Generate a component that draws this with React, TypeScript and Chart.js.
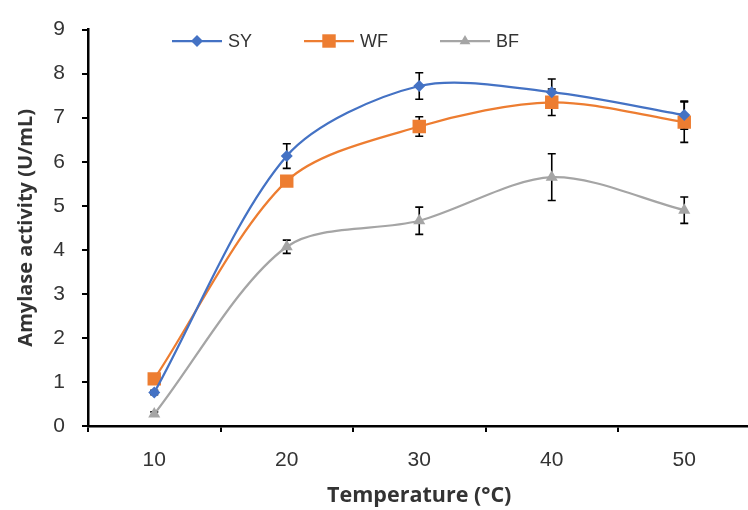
import React, { useEffect, useRef } from "react";
import { Chart, registerables } from "chart.js";

Chart.register(...registerables);

const categories = ["10", "20", "30", "40", "50"];
const seriesNames = ["SY", "WF", "BF"];
const syValues = [0.76, 6.13, 7.72, 7.58, 7.06];
const wfValues = [1.07, 5.56, 6.8, 7.35, 6.9];
const bfValues = [0.27, 4.07, 4.66, 5.65, 4.9];
const syErrors = [0.05, 0.28, 0.3, 0.3, 0.32];
const wfErrors = [0.05, 0.1, 0.22, 0.3, 0.46];
const bfErrors = [0.05, 0.15, 0.31, 0.53, 0.3];
const yTicks = [0, 1, 2, 3, 4, 5, 6, 7, 8, 9];
const yTitle = "Amylase activity (U/mL)";
const xTitle = "Temperature (\u00B0C)";

const colors = ["#4472C4", "#ED7D31", "#A5A5A5"];
const pointStyles = ["rectRot", "rect", "triangle"];
const pointRadii = [6, 9.5, 7];
const textColor = "#333333";

function drawMarker(ctx: CanvasRenderingContext2D, style: string, x: number, y: number, r: number, color: string) {
  ctx.save();
  ctx.fillStyle = color;
  ctx.beginPath();
  if (style === "rectRot") {
    ctx.moveTo(x, y - r);
    ctx.lineTo(x + r, y);
    ctx.lineTo(x, y + r);
    ctx.lineTo(x - r, y);
  } else if (style === "rect") {
    const s = r * Math.SQRT1_2;
    ctx.rect(x - s, y - s, 2 * s, 2 * s);
  } else {
    ctx.moveTo(x, y - r);
    ctx.lineTo(x + r * 0.9, y + r * 0.55);
    ctx.lineTo(x - r * 0.9, y + r * 0.55);
  }
  ctx.closePath();
  ctx.fill();
  ctx.restore();
}

const errorBarPlugin = {
  id: "errorBars",
  beforeDatasetsDraw(chart: any) {
    const ctx = chart.ctx;
    const yScale = chart.scales.y;
    ctx.save();
    ctx.strokeStyle = "#000000";
    ctx.lineWidth = 1.6;
    chart.data.datasets.forEach((ds: any, di: number) => {
      const meta = chart.getDatasetMeta(di);
      meta.data.forEach((pt: any, i: number) => {
        const v = ds.data[i];
        const e = ds.errors[i];
        const x = pt.x;
        const yTop = yScale.getPixelForValue(v + e);
        const yBot = yScale.getPixelForValue(v - e);
        ctx.beginPath();
        ctx.moveTo(x, yTop);
        ctx.lineTo(x, yBot);
        ctx.moveTo(x - 4, yTop);
        ctx.lineTo(x + 4, yTop);
        ctx.moveTo(x - 4, yBot);
        ctx.lineTo(x + 4, yBot);
        ctx.stroke();
      });
    });
    ctx.restore();
  },
};

const legendPlugin = {
  id: "customLegend",
  afterDraw(chart: any) {
    const ctx = chart.ctx;
    ctx.save();
    ctx.font = "18px 'Liberation Sans', Arial, sans-serif";
    ctx.textBaseline = "middle";
    ctx.fillStyle = textColor;
    let x = 172;
    const y = 41;
    chart.data.datasets.forEach((ds: any, i: number) => {
      ctx.strokeStyle = colors[i];
      ctx.lineWidth = 2.25;
      ctx.beginPath();
      ctx.moveTo(x, y);
      ctx.lineTo(x + 50, y);
      ctx.stroke();
      drawMarker(ctx, pointStyles[i], x + 25, y, i === 1 ? 9.5 : 6, colors[i]);
      ctx.fillStyle = textColor;
      ctx.fillText(ds.label, x + 56, y + 1);
      const w = ctx.measureText(ds.label).width;
      x = x + 56 + w + 52;
    });
    ctx.restore();
  },
};

export default function App() {
  const canvasRef = useRef<HTMLCanvasElement | null>(null);

  useEffect(() => {
    document.body.style.margin = "0";
    const canvas = canvasRef.current;
    if (!canvas) return;
    const values = [syValues, wfValues, bfValues];
    const errors = [syErrors, wfErrors, bfErrors];
    const chart = new Chart(canvas, {
      type: "line",
      data: {
        labels: categories,
        datasets: seriesNames.map((name, i) => ({
          label: name,
          data: values[i],
          errors: errors[i],
          borderColor: colors[i],
          backgroundColor: colors[i],
          borderWidth: 2.25,
          pointStyle: pointStyles[i] as any,
          pointRadius: pointRadii[i],
          pointBorderWidth: 0,
          pointBackgroundColor: colors[i],
          tension: 0.3,
          fill: false,
        })) as any,
      },
      options: {
        animation: false,
        responsive: false,
        devicePixelRatio: 1,
        layout: { padding: { top: 24, right: 5, left: 0, bottom: 0 } },
        plugins: {
          legend: { display: false },
          tooltip: { enabled: false },
        },
        scales: {
          x: {
            type: "category",
            offset: true,
            afterFit: (s: any) => {
              s.height = 84;
            },
            grid: {
              offset: true,
              drawOnChartArea: false,
              drawTicks: true,
              tickLength: 6,
              color: "#000000",
              lineWidth: 2,
            },
            border: { color: "#000000", width: 2.5 },
            ticks: {
              color: textColor,
              font: { family: "'Liberation Sans', Arial, sans-serif", size: 21 },
              padding: 16,
              maxRotation: 0,
            },
            title: {
              display: true,
              text: xTitle,
              color: textColor,
              font: { family: "'Open Sans', sans-serif", size: 21.5, weight: "bold" },
              padding: { top: 0, bottom: 1 },
            },
          },
          y: {
            min: 0,
            max: 9,
            afterFit: (s: any) => {
              s.width = 88;
            },
            afterBuildTicks: (s: any) => {
              s.ticks = yTicks.map((v) => ({ value: v }));
            },
            grid: {
              drawOnChartArea: false,
              drawTicks: true,
              tickLength: 6,
              color: "#000000",
              lineWidth: 2,
            },
            border: { color: "#000000", width: 2.5 },
            ticks: {
              color: textColor,
              font: { family: "'Liberation Sans', Arial, sans-serif", size: 21 },
              padding: 17,
            },
            title: {
              display: true,
              text: yTitle,
              color: textColor,
              font: { family: "'Open Sans', sans-serif", size: 20, weight: "bold" },
              padding: { top: 14, bottom: 0 },
            },
          },
        },
      },
      plugins: [errorBarPlugin, legendPlugin],
    });
    return () => chart.destroy();
  }, []);

  return (
    <div
      style={{
        position: "fixed",
        left: 0,
        top: 0,
        width: 748,
        height: 510,
        overflow: "hidden",
        background: "#ffffff",
      }}
    >
      <canvas ref={canvasRef} width={760} height={510} style={{ display: "block" }} />
    </div>
  );
}
